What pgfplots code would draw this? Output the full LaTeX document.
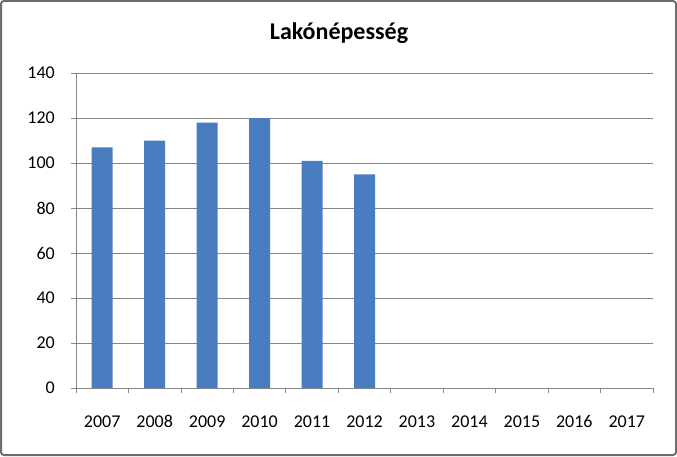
\documentclass[border=0pt]{standalone}
\usepackage{pgfplots}
\pgfplotsset{compat=1.18}
\usepackage{fontspec}
\setmainfont{Carlito}

\definecolor{barblue}{HTML}{4A7DC0}
\definecolor{gridgray}{HTML}{868686}
\definecolor{framegray}{HTML}{6E6E6E}

\begin{document}
\begin{tikzpicture}[x=1pt,y=1pt]
% outer frame of the chart area
\draw[framegray, line width=2pt, rounded corners=3pt, fill=white] (1,1) rectangle (676,455);
\path[use as bounding box] (0,0) rectangle (677,456);
\begin{axis}[
    at={(76pt,68pt)}, anchor=south west,
    scale only axis,
    width=577pt, height=315pt,
    xmin=-0.5, xmax=10.5,
    ymin=0, ymax=140,
    ytick={0,20,...,140},
    xtick={-0.5,0.5,...,10.5},
    x tick label as interval,
    xticklabels={2007,2008,2009,2010,2011,2012,2013,2014,2015,2016,2017},
    major tick length=5pt,
    tick style={gridgray, line width=0.8pt},
    y tick label style={font=\fontsize{18}{20}\selectfont, anchor=east, inner sep=0pt, xshift=-16pt},
    x tick label style={font=\fontsize{18}{20}\selectfont, anchor=north, inner sep=0pt,
        text height=12pt, text depth=0pt, yshift=-22pt},
    /pgf/number format/assume math mode=true,
    ymajorgrids,
    grid style={gridgray, line width=0.8pt},
    axis x line*=bottom,
    axis y line*=left,
    axis line style={gridgray, line width=0.8pt},
    tick align=outside,
    ybar,
    bar width=21pt,
    clip=false,
]
\addplot[fill=barblue, draw=none] coordinates {
    (0,107) (1,110) (2,118) (3,120) (4,101) (5,95)
};
\end{axis}
\node[font=\fontsize{24}{28}\selectfont\bfseries, anchor=base] at (339,416) {Lakónépesség};
\end{tikzpicture}
\end{document}
